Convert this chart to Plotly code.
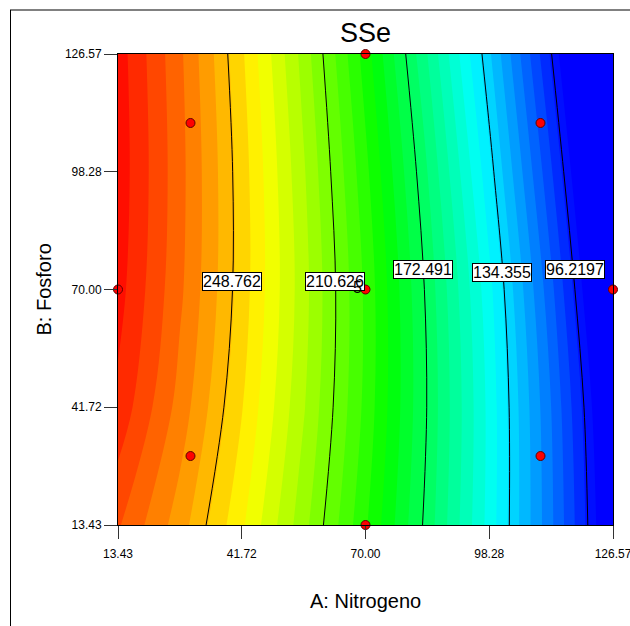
import plotly.graph_objects as go

# ---- data ----
A_grid = [13.43, 27.57, 41.72, 55.86, 70.00, 84.14, 98.28, 112.43, 126.57]
B_grid = [13.43, 41.72, 70.00, 98.28, 126.57]
SSe = [
    [270.50, 256.30, 238.50, 217.90, 195.19, 170.58, 143.83, 114.64, 83.57],
    [279.17, 262.35, 243.25, 221.89, 198.25, 172.22, 144.19, 113.57, 80.90],
    [282.81, 265.59, 245.81, 223.51, 198.66, 171.17, 142.20, 109.70, 74.62],
    [283.94, 266.37, 245.72, 222.04, 195.94, 167.48, 136.82, 103.45, 67.82],
    [283.37, 265.59, 243.83, 219.14, 191.84, 162.07, 130.68, 96.51, 60.00],
]
contour_levels = [96.2197, 134.355, 172.491, 210.626, 248.762]
label_A = [117.79, 101.10, 83.03, 62.92, 39.49]
label_B = [74.7, 74.1, 74.7, 72.0, 72.0]

A_pts = [30, 110, 30, 110, 13.43, 126.57, 70, 70, 70]
B_pts = [30, 30, 110, 110, 70, 70, 13.43, 126.57, 70]
reps = [1, 1, 1, 1, 1, 1, 1, 1, 5]

tick_vals = [13.43, 41.72, 70.00, 98.28, 126.57]
tick_text = ["13.43", "41.72", "70.00", "98.28", "126.57"]

FONT = "Liberation Sans, Arial, sans-serif"
W, H = 630, 626
ML, MR, MT, MB = 118, 17, 54, 101
PW, PH = W - ML - MR, H - MT - MB

def px_to_paper_x(px):
    return (px - ML) / PW

def px_to_paper_y(py):
    return (H - MB - py) / PH

cscale = [[0, "rgb(0,0,255)"], [0.25, "rgb(0,255,255)"], [0.5, "rgb(0,255,0)"],
          [0.75, "rgb(255,255,0)"], [1, "rgb(255,0,0)"]]
zlo, zhi = 92.0, 286.0

fig = go.Figure()
fig.add_trace(go.Contour(
    x=A_grid, y=B_grid, z=SSe,
    colorscale=cscale, zmin=zlo, zmax=zhi, zauto=False,
    contours=dict(coloring="fill", start=zlo, end=zhi, size=(zhi - zlo) / 36, showlines=False),
    line=dict(width=0, smoothing=1),
    showscale=False, hoverinfo="skip",
))
fig.add_trace(go.Contour(
    x=A_grid, y=B_grid, z=SSe,
    colorscale=[[0, "black"], [1, "black"]],
    contours=dict(coloring="lines", start=contour_levels[0], end=contour_levels[-1],
                  size=(contour_levels[-1] - contour_levels[0]) / (len(contour_levels) - 1)),
    line=dict(width=1, color="black", smoothing=1),
    showscale=False, hoverinfo="skip",
))
fig.add_trace(go.Scatter(
    x=A_pts, y=B_pts, mode="markers",
    marker=dict(color="#ff0000", size=9, line=dict(color="#600000", width=1)),
    cliponaxis=False, hoverinfo="skip", showlegend=False,
))

annotations = []
for lv, xa, yb in zip(contour_levels, label_A, label_B):
    annotations.append(dict(
        x=xa, y=yb, xref="x", yref="y", text=("%g" % lv), showarrow=False,
        font=dict(family=FONT, size=16, color="black"),
        bgcolor="white", bordercolor="black", borderwidth=1, borderpad=0,
    ))
for xa, yb, r in zip(A_pts, B_pts, reps):
    if r > 1:
        annotations.append(dict(
            x=xa, y=yb, xref="x", yref="y", text=str(r), showarrow=False,
            xanchor="right", xshift=-2, yshift=2,
            font=dict(family=FONT, size=16, color="black"),
        ))
annotations.append(dict(
    x=px_to_paper_x(30), y=0.5, xref="paper", yref="paper", text="B: Fosforo",
    textangle=-90, showarrow=False, font=dict(family=FONT, size=20, color="black"),
))
annotations.append(dict(
    x=0.5, y=px_to_paper_y(614), xref="paper", yref="paper", text="A: Nitrogeno",
    showarrow=False, font=dict(family=FONT, size=20, color="black"),
))

shapes = [
    dict(type="line", xref="paper", yref="paper",
         x0=px_to_paper_x(10), x1=px_to_paper_x(700), y0=px_to_paper_y(10), y1=px_to_paper_y(10),
         line=dict(color="#808080", width=2)),
    dict(type="line", xref="paper", yref="paper",
         x0=px_to_paper_x(10.5), x1=px_to_paper_x(10.5), y0=px_to_paper_y(10), y1=px_to_paper_y(700),
         line=dict(color="black", width=1)),
]

axis_common = dict(
    tickvals=tick_vals, ticktext=tick_text, ticks="outside", ticklen=13, tickwidth=1,
    tickcolor="#333333", showgrid=False, zeroline=False, showline=True, linecolor="black",
    linewidth=1, mirror=True, tickfont=dict(family=FONT, size=12, color="black"),
    range=[13.43, 126.57], ticklabeloverflow="allow", automargin=False,
)
fig.update_layout(
    width=W, height=H, margin=dict(l=ML, r=MR, t=MT, b=MB, autoexpand=False),
    paper_bgcolor="white", plot_bgcolor="white",
    title=dict(text="SSe", x=0.5, xref="paper", xanchor="center",
               y=1 - 33 / H, yanchor="middle", font=dict(family=FONT, size=27, color="black")),
    xaxis=dict(**axis_common, ticklabelstandoff=5),
    yaxis=dict(**axis_common),
    annotations=annotations, shapes=shapes, showlegend=False,
)
fig.write_html("out.html")
